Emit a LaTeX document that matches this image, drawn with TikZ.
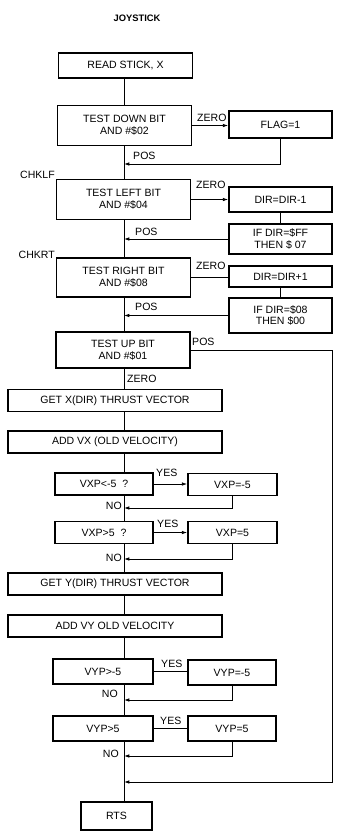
\documentclass[tikz,border=0pt]{standalone}
\usepackage{fontspec}
\setmainfont{Liberation Sans}
\usetikzlibrary{arrows.meta}

\begin{document}
\begin{tikzpicture}[x=0.03cm, y=-0.03cm,
    bloco/.style={draw, line width=1.4pt, inner sep=0pt, align=center, font=\fontsize{9}{10}\selectfont, minimum width=4.02cm, minimum height=1.2cm},
    blocoD/.style={bloco, minimum width=3.09cm},
    blocoL/.style={bloco, minimum width=6.42cm, minimum height=0.66cm},
    blocoC/.style={bloco, minimum width=2.94cm, minimum height=0.66cm},
    blocoR/.style={bloco, minimum width=2.67cm, minimum height=0.66cm},
    linha/.style={line width=0.7pt},
    seta/.style={linha, -{Latex[length=4.5pt, width=3pt]}},
    rotulo/.style={font=\fontsize{9}{10}\selectfont, inner sep=0pt}
  ]
    \useasboundingbox (0,0) rectangle (341,835);
    \node[font=\fontsize{8}{9}\selectfont\bfseries] (titulo) at (137,18) {JOYSTICK};

    % bits do joystick
    \node[bloco, minimum height=0.75cm] (read) at (125.5,65.5) {READ STICK, X};
    \node[bloco] (down) at (124.5,125.5) {TEST DOWN BIT\\AND \#\$02};
    \node[bloco] (left) at (123.5,199.5) {TEST LEFT BIT\\AND \#\$04};
    \node[bloco, minimum height=1.17cm] (right) at (123.5,277.5) {TEST RIGHT BIT\\AND \#\$08};
    \node[bloco, minimum height=1.08cm] (up) at (123,350) {TEST UP BIT\\AND \#\$01};

    \node[blocoD, minimum height=0.81cm] (flag) at (280.5,124.5) {FLAG=1};
    \node[blocoD, minimum height=0.75cm] (dir1) at (280.5,199.5) {DIR=DIR-1};
    \node[blocoD, minimum height=0.9cm] (ifff) at (280.5,239) {IF DIR=\$FF\\THEN \$ 07};
    \node[blocoD, minimum height=0.63cm] (dir2) at (280.5,276.5) {DIR=DIR+1};
    \node[blocoD, minimum height=1.05cm] (if08) at (280.5,315.5) {IF DIR=\$08\\THEN \$00};

    % velocidade
    \node[blocoL] (getx) at (115,400.5) {GET X(DIR) THRUST VECTOR};
    \node[blocoL] (addvx) at (115,442) {ADD VX (OLD VELOCITY)};
    \node[blocoC] (vxlt) at (104,484) {VXP<-5\ \ ?};
    \node[blocoR] (vxlteq) at (232.5,484.5) {VXP=-5};
    \node[blocoC] (vxgt) at (104,532.5) {VXP>5\ \ ?};
    \node[blocoR] (vxgteq) at (232.5,532.5) {VXP=5};
    \node[blocoL] (gety) at (115,584) {GET Y(DIR) THRUST VECTOR};
    \node[blocoL] (addvy) at (115,626) {ADD VY OLD VELOCITY};
    \node[blocoC, minimum width=3cm, minimum height=0.75cm] (vylt) at (103,671.5) {VYP>-5};
    \node[blocoR, minimum width=2.64cm, minimum height=0.75cm] (vylteq) at (232,672.5) {VYP=-5};
    \node[blocoC, minimum width=3cm, minimum height=0.75cm] (vygt) at (103,728.5) {VYP>5};
    \node[blocoR, minimum width=2.64cm, minimum height=0.75cm] (vygteq) at (232,728.5) {VYP=5};
    \node[bloco, minimum width=2.13cm, minimum height=0.84cm] (rts) at (116.5,816) {RTS};

    \coordinate (spine) at (124,0);
    \coordinate (j1) at (124,164);
    \coordinate (j5) at (124,508);
    \coordinate (j6) at (124,559);
    \coordinate (j7) at (124,700);
    \coordinate (j8) at (124,756);
    \coordinate (jfim) at (124,782);
    \coordinate (canto) at (332,782);

    % linha principal
    \draw[linha] (read.south -| spine) -- (down.north -| spine);
    \draw[linha] (down.south -| spine) -- (left.north -| spine);
    \draw[linha] (left.south -| spine) -- (right.north -| spine);
    \draw[linha] (right.south -| spine) -- (up.north -| spine);
    \draw[linha] (up.south -| spine) -- (getx.north -| spine);
    \draw[linha] (getx.south -| spine) -- (addvx.north -| spine);
    \draw[linha] (addvx.south -| spine) -- (vxlt.north -| spine);
    \draw[linha] (vxlt.south -| spine) -- (vxgt.north -| spine);
    \draw[linha] (vxgt.south -| spine) -- (gety.north -| spine);
    \draw[linha] (gety.south -| spine) -- (addvy.north -| spine);
    \draw[linha] (addvy.south -| spine) -- (vylt.north -| spine);
    \draw[linha] (vylt.south -| spine) -- (vygt.north -| spine);
    \draw[linha] (vygt.south -| spine) -- (rts.north -| spine);

    % desvios
    \draw[seta] (down.east) -- (down.east -| flag.west);
    \draw[seta] (flag.south) |- (j1);
    \draw[seta] (left.east) -- (dir1.west);
    \draw[linha] (dir1.south) -- (ifff.north);
    \draw[seta] (ifff.west) -- (ifff.west -| spine);
    \draw[linha] (right.east) -- (right.east -| dir2.west);
    \draw[linha] (dir2.south) -- (if08.north);
    \draw[seta] (if08.west) -- (if08.west -| spine);
    \draw[seta] (up.east) -| (canto) -- (jfim);
    \draw[seta] (vxlt.east) -- (vxlt.east -| vxlteq.west);
    \draw[seta] (vxlteq.south) |- (j5);
    \draw[seta] (vxgt.east) -- (vxgt.east -| vxgteq.west);
    \draw[seta] (vxgteq.south) |- (j6);
    \draw[linha] (vylt.east) -- (vylt.east -| vylteq.west);
    \draw[seta] (vylteq.south) |- (j7);
    \draw[linha] (vygt.east) -- (vygt.east -| vygteq.west);
    \draw[seta] (vygteq.south) |- (j8);

    % rotulos
    \node[rotulo, anchor=base west] (z1) at (197,121) {ZERO};
    \node[rotulo, anchor=base west] (p1) at (133,159) {POS};
    \node[rotulo, anchor=base east] (chklf) at (55,178) {CHKLF};
    \node[rotulo, anchor=base west] (z2) at (196,188) {ZERO};
    \node[rotulo, anchor=base west] (p2) at (135,235) {POS};
    \node[rotulo, anchor=base east] (chkrt) at (55,258) {CHKRT};
    \node[rotulo, anchor=base west] (z3) at (196,269) {ZERO};
    \node[rotulo, anchor=base west] (p3) at (135,310) {POS};
    \node[rotulo, anchor=base west] (p4) at (192,345) {POS};
    \node[rotulo, anchor=base west] (z4) at (127,382) {ZERO};
    \node[rotulo, anchor=base west] (y1) at (156,476) {YES};
    \node[rotulo, anchor=base east] (n1) at (122,509) {NO};
    \node[rotulo, anchor=base west] (y2) at (157,527) {YES};
    \node[rotulo, anchor=base east] (n2) at (122,561) {NO};
    \node[rotulo, anchor=base west] (y3) at (161,667) {YES};
    \node[rotulo, anchor=base east] (n3) at (118,697) {NO};
    \node[rotulo, anchor=base west] (y4) at (160,724) {YES};
    \node[rotulo, anchor=base east] (n4) at (119,757) {NO};
\end{tikzpicture}
\end{document}
